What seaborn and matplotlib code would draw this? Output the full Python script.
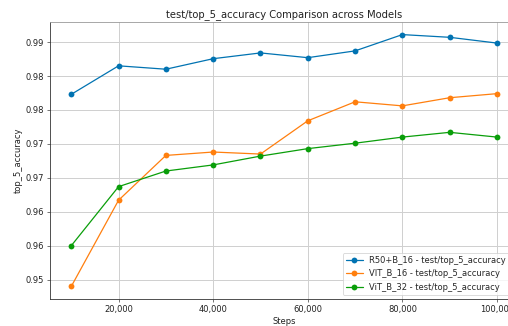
import matplotlib
matplotlib.use("Agg")
import matplotlib.pyplot as plt
import matplotlib.ticker as mticker
import numpy as np
import pandas as pd
import seaborn as sns

steps = [10000, 20000, 30000, 40000, 50000, 60000, 70000, 80000, 90000, 100000]
r50_b16 = [0.9823, 0.9865, 0.9860, 0.98755, 0.9884, 0.9877, 0.9887, 0.9911, 0.9907, 0.98985]
vit_b16 = [0.9540, 0.9667, 0.9733, 0.9738, 0.9735, 0.9784, 0.9812, 0.9806, 0.9818, 0.9824]
vit_b32 = [0.9600, 0.9687, 0.9710, 0.9719, 0.9732, 0.9743, 0.9751, 0.9760, 0.9767, 0.9760]

series_names = [
    "R50+B_16 - test/top_5_accuracy",
    "VIT_B_16 - test/top_5_accuracy",
    "ViT_B_32 - test/top_5_accuracy",
]
colors = ["#0173b2", "#ff7f0e", "#0a9e0a"]

df = pd.DataFrame({
    "Steps": steps * 3,
    "value": r50_b16 + vit_b16 + vit_b32,
    "model": [series_names[0]] * len(steps) + [series_names[1]] * len(steps) + [series_names[2]] * len(steps),
})

sns.set_style("whitegrid")
plt.rcParams["font.family"] = ["DejaVu Sans"]

DPI = 60
fig = plt.figure(figsize=(509 / DPI, 326 / DPI), dpi=DPI)
ax = fig.add_axes([0.0982, 0.0828, 0.92, 0.8497])

sns.lineplot(data=df, x="Steps", y="value", hue="model", palette=colors,
             marker="o", markersize=7, markeredgewidth=0, linewidth=1.5,
             ax=ax)

ax.set_title("test/top_5_accuracy Comparison across Models", fontsize=12, pad=6,
             color="#222222")
ax.set_xlabel("Steps", fontsize=10, labelpad=4, color="#222222")
ax.set_ylabel("top_5_accuracy", fontsize=10, labelpad=4, color="#222222")
ax.xaxis.set_major_locator(mticker.MultipleLocator(20000))
ax.xaxis.set_major_formatter(mticker.StrMethodFormatter("{x:,.0f}"))
ax.yaxis.set_major_locator(mticker.MultipleLocator(0.005))
# two-decimal labels, half-steps truncated down
ax.yaxis.set_major_formatter(mticker.FuncFormatter(
    lambda v, p: "%.2f" % (np.floor(v * 100 + 1e-9) / 100)))
ax.tick_params(axis="both", labelsize=10, length=3.5, width=0.8, pad=3.5,
               color="#333333", labelcolor="#222222", left=True, bottom=True)
ax.grid(True, color="#d0d0d0", linewidth=1.2)

for side in ["left", "bottom"]:
    ax.spines[side].set_color("#333333")
    ax.spines[side].set_linewidth(1.0)
for side in ["top", "right"]:
    ax.spines[side].set_color("#999999")
    ax.spines[side].set_linewidth(1.0)

leg = ax.legend(loc="lower right", bbox_to_anchor=(0.99, 0.0), fontsize=10,
                frameon=True)
leg.get_frame().set_edgecolor("#cccccc")

fig.savefig("out.png", dpi=DPI)
